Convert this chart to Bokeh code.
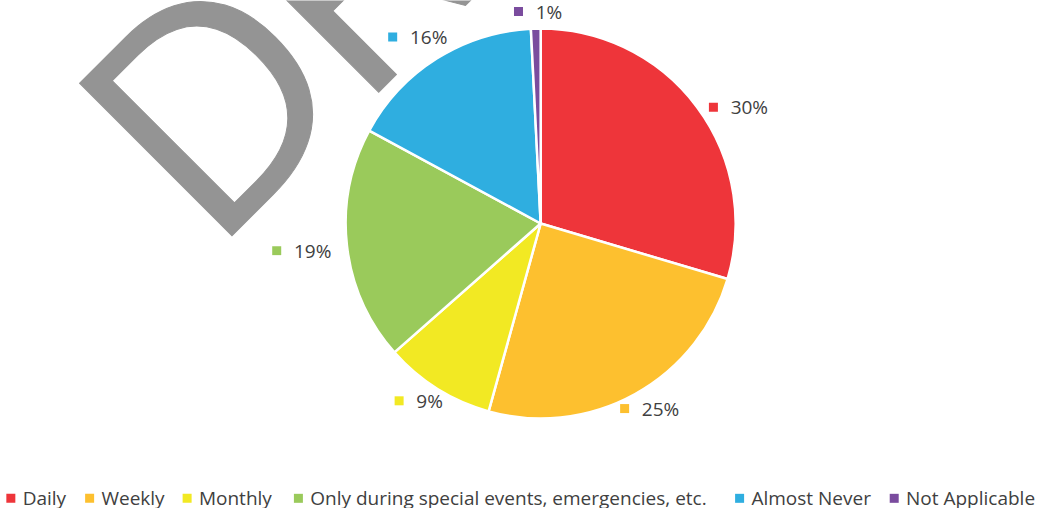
import math
from bokeh.plotting import figure
from bokeh.models import Range1d, ColumnDataSource
from bokeh.core.properties import value
from bokeh.embed import file_html
from bokeh.resources import INLINE

# ---------------- data ----------------
CATEGORIES = ["Daily", "Weekly", "Monthly",
              "Only during special events, emergencies, etc.",
              "Almost Never", "Not Applicable"]
SHARES = [29.6, 24.7, 9.2, 19.4, 16.3, 0.8]   # percent
COLORS = ["#EE353A", "#FDC02F", "#F2E923", "#9ACA5B", "#2FAEE0", "#7A4C9E"]
WATERMARK = "DR"

# ---------------- layout (reference-frame pixels, y down) ----------------
REF_W, REF_H = 1053, 524
W, H = 1037, 508
FONT = "Open Sans"
TEXT_COLOR = "#404040"

CX, CY = 548.5, 230.0          # pie centre
R_DRAW = 198.0                 # drawn radius (x units)
R_RIM = 199.5                  # rim used to place labels
LABEL_OFFSETS = [(15.5, -0.5), (-11.4, 16.4), (-37.9, 13.8),
                 (-69.8, 5.5), (-43.9, -23.6), (-17.5, -19.1)]
LEGEND_MARKER_X = [10.5, 90.5, 189.5, 302.5, 750.5, 907.5]
LEGEND_Y = 513.5
WM_SIZE = 302
WM_ANCHORS = [(129.5, 178.5), (278.5, 30.5)]   # middle-left anchors of the letters


def dy(y_page):
    """reference y (down) -> data y (up)"""
    return REF_H - y_page


p = figure(width=W, height=H,
           x_range=Range1d(0, REF_W), y_range=Range1d(0, REF_H),
           output_backend="svg", toolbar_location=None, min_border=0)
p.axis.visible = False
p.xgrid.visible = False
p.ygrid.visible = False
p.outline_line_color = None
p.background_fill_color = "white"
p.border_fill_color = "white"

# ---------------- watermark ----------------
wm = p.text(x=[a[0] for a in WM_ANCHORS], y=[dy(a[1]) for a in WM_ANCHORS],
            text=list(WATERMARK), angle=math.pi / 4,
            text_font=value(FONT), text_font_size=f"{WM_SIZE}px",
            text_color="#949494", text_align="left", text_baseline="middle")
wm.glyph.text_outline_color = "#949494"

# ---------------- pie ----------------
total = sum(SHARES)
cum = [0.0]
for s in SHARES:
    cum.append(cum[-1] + s / total)
starts = [math.pi / 2 - 2 * math.pi * c for c in cum[:-1]]
ends = [math.pi / 2 - 2 * math.pi * c for c in cum[1:]]

src = ColumnDataSource(dict(cat=CATEGORIES, share=SHARES, color=COLORS,
                            start=starts, end=ends))
p.wedge(x=CX, y=dy(CY), radius=R_DRAW, start_angle="start", end_angle="end",
        direction="clock", fill_color="color", line_color="white",
        line_width=2.5, source=src)

# ---------------- data labels ----------------
mx, my, tx, labels = [], [], [], []
for i, s in enumerate(SHARES):
    mid = (cum[i] + cum[i + 1]) / 2
    phi = 2 * math.pi * mid
    ex = CX + R_RIM * math.sin(phi)
    ey = CY - R_RIM * math.cos(phi)
    ox, oy = LABEL_OFFSETS[i]
    mx.append(ex + ox)
    my.append(dy(ey + oy))
    tx.append(ex + ox + 17.5)
    labels.append(f"{round(s)}%")

p.rect(x=mx, y=my, width=9, height=9, width_units="screen", height_units="screen",
       fill_color=COLORS, line_color=None)
p.text(x=tx, y=my, text=labels, text_font=value(FONT), text_font_size="19px",
       text_color=TEXT_COLOR, text_align="left", text_baseline="middle")

# ---------------- legend ----------------
ly = [dy(LEGEND_Y)] * len(CATEGORIES)
p.rect(x=LEGEND_MARKER_X, y=ly, width=9, height=9, width_units="screen",
       height_units="screen", fill_color=COLORS, line_color=None)
p.text(x=[x + 12 for x in LEGEND_MARKER_X], y=ly, text=CATEGORIES,
       text_font=value(FONT), text_font_size="19px", text_color=TEXT_COLOR,
       text_align="left", text_baseline="middle")

open("out.html", "w").write(file_html(p, INLINE))
